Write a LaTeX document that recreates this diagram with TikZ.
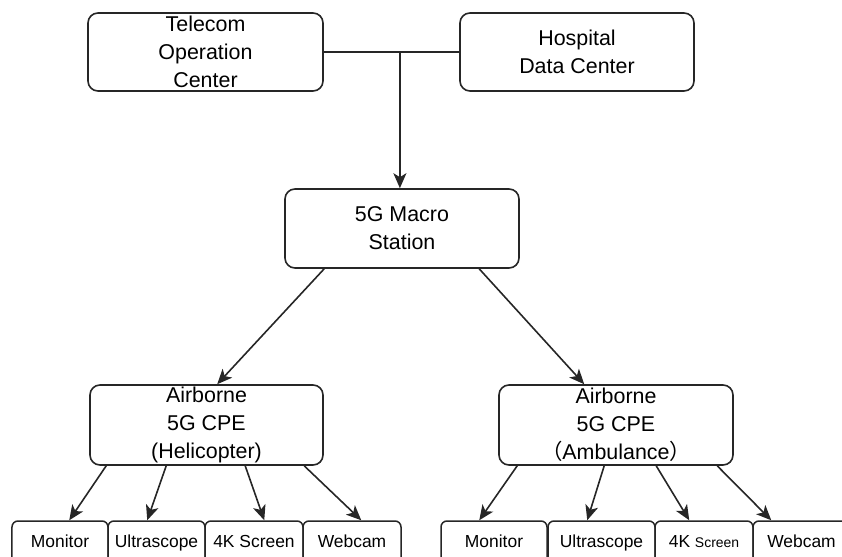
\documentclass[tikz,border=0pt]{standalone}
\usepackage{fontspec}
\setmainfont{Liberation Sans}
\newfontfamily\cjk{Noto Sans CJK SC}
\usetikzlibrary{arrows.meta,calc}
\begin{document}
\begin{tikzpicture}[x=1bp,y=-1bp,
  box/.style={draw=black!85, line width=1.6bp, rounded corners=10bp, inner sep=0pt,
    font=\fontsize{21.5}{28}\selectfont, align=center, text=black},
  dev/.style={draw=black!85, line width=1.5bp, rounded corners=6bp, inner sep=0pt,
    minimum height=44bp, text height=13bp, text depth=4bp,
    font=\fontsize{17.5}{19}\selectfont, text=black},
  arr/.style={line width=1.6bp, draw=black!85, -{Stealth[length=15bp,width=13bp,inset=4bp]}},
  link/.style={line width=1.6bp, draw=black!85}]
\useasboundingbox (0,0) rectangle (842,557);
\clip (0,0) rectangle (842,557);
% top
\node[box, minimum width=235bp, minimum height=78bp] (tel) at (205.5,52) {Telecom\\Operation\\Center};
\node[box, minimum width=234bp, minimum height=78bp] (hosp) at (577,52) {Hospital\\Data Center};
\node[box, minimum width=234bp, minimum height=79bp] (macro) at (402,228.5) {5G Macro\\Station};
\node[box, minimum width=233bp, minimum height=80bp] (heli) at (206.5,425) {Airborne\\5G CPE\\(Helicopter)};
\node[box, minimum width=234bp, minimum height=80bp] (amb) at (616,425) {Airborne\\5G CPE\\{\cjk （}Ambulance{\cjk ）}};
% devices helicopter
\node[dev, minimum width=96bp] (hmon) at (60,543) {Monitor};
\node[dev, minimum width=97bp] (hult) at (156.5,543) {Ultrascope};
\node[dev, minimum width=98bp] (hscr) at (254,543) {4K Screen};
\node[dev, minimum width=98bp] (hweb) at (352,543) {Webcam};
% devices ambulance
\node[dev, minimum width=106bp] (amon) at (494,543) {Monitor};
\node[dev, minimum width=107bp] (ault) at (601.5,543) {Ultrascope};
\node[dev, minimum width=98bp] (ascr) at (704,543) {4K {\fontsize{14}{16}\selectfont Screen}};
\node[dev, minimum width=97bp] (aweb) at (801.5,543) {Webcam};
% connectors
\draw[link] (tel.east) -- (hosp.west);
\coordinate (j) at ($(tel.east)!0.562!(hosp.west)$);
\draw[arr] (j) -- (j |- macro.north);
\draw[arr] ($(macro.south west)+(40,0)$) -- ($(heli.north west)+(128,0)$);
\draw[arr] ($(macro.south west)+(195,0)$) -- ($(amb.north west)+(86,0)$);
% helicopter to devices
\draw[arr] ($(heli.south west)+(17,0)$) -- ($(hmon.north west)+(58,0)$);
\draw[arr] ($(heli.south west)+(77,0)$) -- ($(hult.north west)+(40,0)$);
\draw[arr] ($(heli.south west)+(156,0)$) -- ($(hscr.north west)+(60,0)$);
\draw[arr] ($(heli.south west)+(215,0)$) -- ($(hweb.north west)+(59,0)$);
% ambulance to devices
\draw[arr] ($(amb.south west)+(19,0)$) -- ($(amon.north west)+(39,0)$);
\draw[arr] ($(amb.south west)+(106,0)$) -- ($(ault.north west)+(40,0)$);
\draw[arr] ($(amb.south west)+(158,0)$) -- ($(ascr.north west)+(35,0)$);
\draw[arr] ($(amb.south west)+(219,0)$) -- ($(aweb.north west)+(19,0)$);
\end{tikzpicture}
\end{document}
